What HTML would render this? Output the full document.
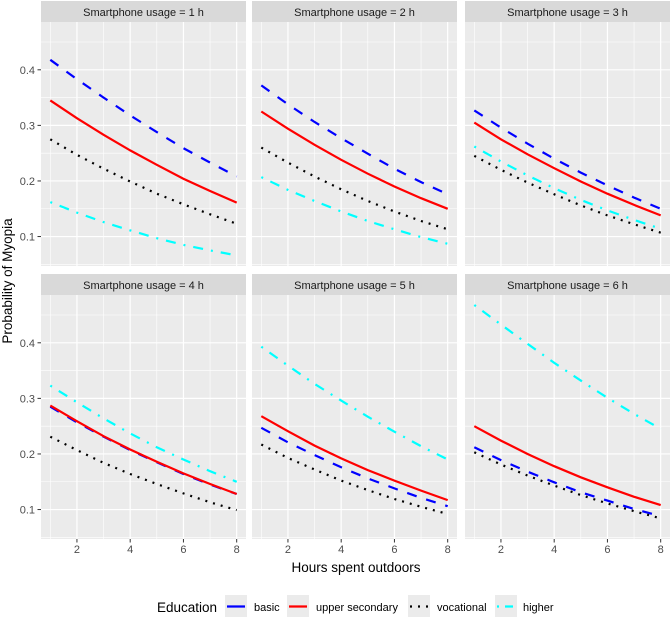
<!DOCTYPE html>
<html><head><meta charset="utf-8"><style>
body{margin:0;background:#fff;}
svg{display:block;font-family:"Liberation Sans",sans-serif;}
</style></head><body>
<svg id="chart" width="671" height="624"></svg>
<script>
const xValues=[1,2,3,4,5,6,7,8];
const facetTitles=["Smartphone usage = 1 h","Smartphone usage = 2 h","Smartphone usage = 3 h","Smartphone usage = 4 h","Smartphone usage = 5 h","Smartphone usage = 6 h"];
const seriesNames=["basic","upper secondary","vocational","higher"];
const basicVals=[
[.418,.383,.350,.318,.288,.259,.233,.208],
[.372,.338,.306,.277,.249,.222,.198,.176],
[.327,.296,.267,.240,.215,.192,.170,.150],
[.285,.257,.231,.207,.185,.164,.145,.128],
[.247,.221,.198,.176,.156,.138,.121,.106],
[.212,.189,.168,.149,.131,.116,.101,.088]];
const upperVals=[
[.345,.313,.283,.255,.229,.204,.182,.161],
[.325,.294,.265,.238,.213,.190,.169,.150],
[.305,.275,.248,.223,.199,.177,.157,.138],
[.287,.259,.232,.208,.186,.165,.146,.128],
[.268,.241,.215,.192,.171,.152,.134,.117],
[.250,.224,.200,.178,.158,.140,.123,.108]];
const vocVals=[
[.275,.247,.222,.199,.177,.158,.140,.123],
[.260,.233,.208,.185,.164,.145,.128,.113],
[.245,.220,.197,.176,.156,.138,.122,.107],
[.231,.207,.184,.164,.146,.129,.113,.099],
[.217,.193,.172,.152,.135,.119,.105,.092],
[.203,.181,.161,.143,.126,.111,.097,.084]];
const higherVals=[
[.162,.143,.126,.111,.097,.085,.075,.066],
[.207,.184,.164,.145,.128,.113,.099,.087],
[.262,.235,.210,.187,.166,.147,.130,.114],
[.323,.293,.264,.237,.212,.190,.169,.150],
[.393,.359,.326,.296,.267,.240,.214,.190],
[.468,.433,.398,.364,.332,.301,.272,.245]];
const yTicks=[0.1,0.2,0.3,0.4];
const yMinor=[0.05,0.15,0.25,0.35,0.45];
const xTicks=[2,4,6,8];
const xMinor=[1,3,5,7];

const NS="http://www.w3.org/2000/svg";
const svg=document.getElementById('chart');
function mk(tag,attrs,parent){const e=document.createElementNS(NS,tag);for(const k in attrs)e.setAttribute(k,attrs[k]);(parent||svg).appendChild(e);return e;}
const panelLefts=[41,252,465], panelW=205;
const stripTops=[1,274], stripH=21, plotH=244;
const yDom=[0.047,0.486], xDom=[0.65,8.35];
const styles=[
 {color:"#0000FF",dash:"10,10"},
 {color:"#FF0000",dash:""},
 {color:"#000000",dash:"2,6"},
 {color:"#00FFFF",dash:"2,8,10,8"}];
const allSeries=[basicVals,upperVals,vocVals,higherVals];

for(let p=0;p<6;p++){
  const col=p%3,row=Math.floor(p/3);
  const L=panelLefts[col], T=stripTops[row]+stripH;
  const sx=v=>L+(v-xDom[0])/(xDom[1]-xDom[0])*panelW;
  const sy=v=>T+plotH-(v-yDom[0])/(yDom[1]-yDom[0])*plotH;
  const g=mk('g',{});
  
  
  const strip=mk('rect',{x:L,y:stripTops[row],width:panelW,height:stripH,fill:'#D9D9D9'},g);
  
  
  const st=mk('text',{x:L+panelW/2,y:stripTops[row]+15,'text-anchor':'middle','font-size':'11','fill':'#1A1A1A'},g);
  st.textContent=facetTitles[p];
  
  
  const bg=mk('rect',{x:L,y:T,width:panelW,height:plotH,fill:'#EBEBEB'},g);
  
  
  yMinor.forEach(v=>mk('line',{x1:L,x2:L+panelW,y1:sy(v),y2:sy(v),stroke:'#fff','stroke-width':0.6},g));
  xMinor.forEach(v=>mk('line',{x1:sx(v),x2:sx(v),y1:T,y2:T+plotH,stroke:'#fff','stroke-width':0.6},g));
  yTicks.forEach(v=>mk('line',{x1:L,x2:L+panelW,y1:sy(v),y2:sy(v),stroke:'#fff','stroke-width':1.2},g));
  xTicks.forEach(v=>mk('line',{x1:sx(v),x2:sx(v),y1:T,y2:T+plotH,stroke:'#fff','stroke-width':1.2},g));
  if(col===0){
    yTicks.forEach(v=>{
      mk('line',{x1:L-3.5,x2:L,y1:sy(v),y2:sy(v),stroke:'#333','stroke-width':1},g);
      const t=mk('text',{x:L-6,y:sy(v)+4,'text-anchor':'end','font-size':'11',fill:'#4D4D4D'},g);
      t.textContent=v.toFixed(1);
      
      
    });
  }
  if(row===1){
    xTicks.forEach(v=>{
      mk('line',{x1:sx(v),x2:sx(v),y1:T+plotH,y2:T+plotH+3.5,stroke:'#333','stroke-width':1},g);
      const t=mk('text',{x:sx(v),y:T+plotH+14,'text-anchor':'middle','font-size':'11',fill:'#4D4D4D'},g);
      t.textContent=String(v);
      
      
    });
  }
  allSeries.forEach((ser,si)=>{
    const d=ser[p].map((v,i)=>(i?'L':'M')+sx(xValues[i]).toFixed(1)+','+sy(v).toFixed(1)).join('');
    const path=mk('path',{d:d,fill:'none',stroke:styles[si].color,'stroke-width':2.2},g);
    if(styles[si].dash)path.setAttribute('stroke-dasharray',styles[si].dash);
    
    
  });
}
const yt=mk('text',{x:0,y:0,transform:'translate(12,281) rotate(-90)','text-anchor':'middle','font-size':'13.5',fill:'#000'});
yt.textContent='Probability of Myopia';


const xt=mk('text',{x:356,y:572,'text-anchor':'middle','font-size':'13.5',fill:'#000'});
xt.textContent='Hours spent outdoors';



const lg=mk('g',{});


const lt=mk('text',{x:157,y:612,'font-size':'13.5',fill:'#000'},lg);
lt.textContent='Education';


const keyX=[225,287,408,495], labX=[254,316,437,523];
seriesNames.forEach((n,i)=>{
  const e=mk('g',{},lg);
  
  
  mk('rect',{x:keyX[i],y:595,width:22,height:22,fill:'#EBEBEB'},e);
  const l=mk('line',{x1:keyX[i]+2,x2:keyX[i]+20,y1:606.5,y2:606.5,stroke:styles[i].color,'stroke-width':2.2},e);
  if(i===2)l.setAttribute('stroke-dasharray','2,6');
  if(i===3)l.setAttribute('stroke-dasharray','2,6,8,6');
  const t=mk('text',{x:labX[i],y:611,'font-size':'11',fill:'#000'},e);
  t.textContent=n;
});
</script>
</body></html>
